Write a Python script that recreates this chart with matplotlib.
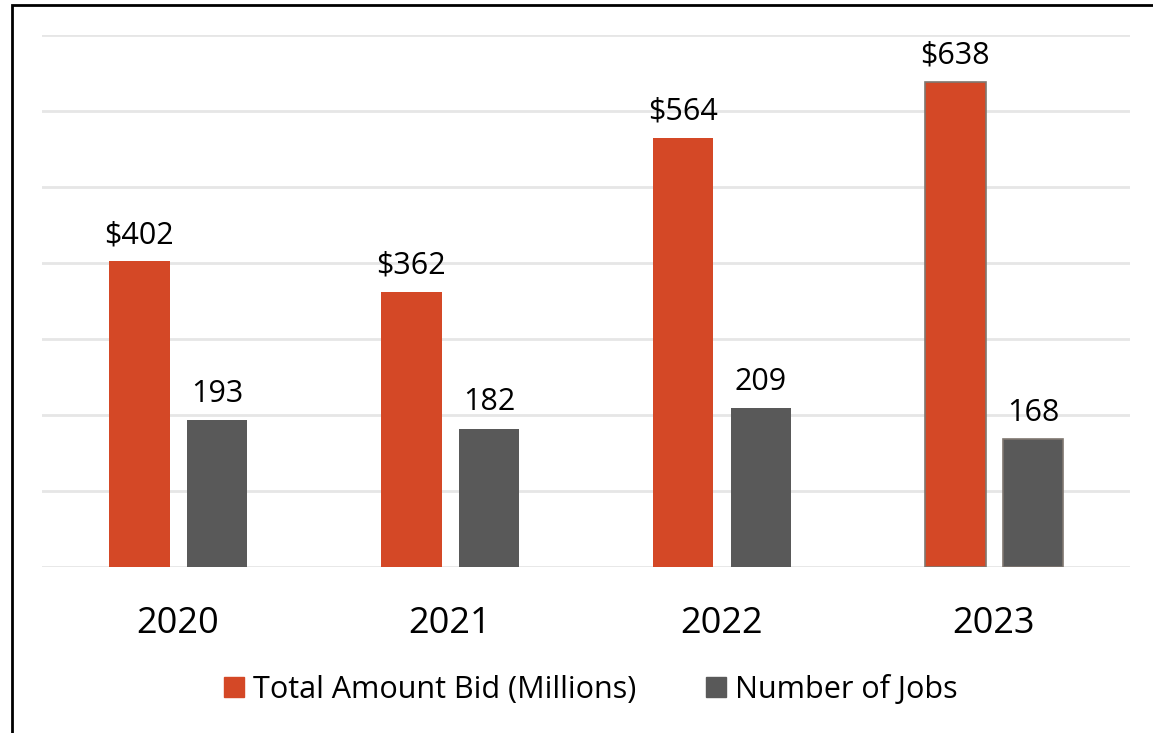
import matplotlib.pyplot as plt
import matplotlib.patches as mpatches
import numpy as np

plt.rcParams['font.family'] = ['Open Sans', 'DejaVu Sans']

years = ['2020', '2021', '2022', '2023']
total_bid = [402, 362, 564, 638]
num_jobs = [193, 182, 209, 168]
bid_labels = ['$402', '$362', '$564', '$638']

orange = '#D44826'
gray = '#595959'

fig = plt.figure(figsize=(11.53, 7.33), dpi=100)
ax = fig.add_axes([42 / 1153, 1 - 567 / 733, 1088 / 1153, 532 / 733])

x = np.arange(len(years))
w = 0.224
off = (w + 0.0625) / 2

b1 = ax.bar(x - off, total_bid, w, color=orange, zorder=3)
b2 = ax.bar(x + off, num_jobs, w, color=gray, zorder=3)
# last year's bars have a thin grey outline
b1[3].set_edgecolor('#7f7770')
b1[3].set_linewidth(1.2)
b2[3].set_edgecolor('#7f7770')
b2[3].set_linewidth(1.2)

for bar, lab in zip(b1, bid_labels):
    ax.text(bar.get_x() + bar.get_width() / 2, bar.get_height() + 15, lab,
            ha='center', va='bottom', fontsize=22)
for bar, v in zip(b2, num_jobs):
    ax.text(bar.get_x() + bar.get_width() / 2, bar.get_height() + 15, str(v),
            ha='center', va='bottom', fontsize=22)

ax.set_xlim(-0.5, 3.5)
ax.set_ylim(0, 700)
ax.set_yticks(np.arange(0, 701, 100))
ax.set_yticklabels([])
ax.tick_params(axis='y', length=0)
ax.grid(axis='y', color='#e6e6e6', linewidth=2, zorder=0)
ax.set_xticks(x)
ax.set_xticklabels(years, fontsize=26)
ax.tick_params(axis='x', length=0, pad=28)
for s in ax.spines.values():
    s.set_visible(False)

handles = [mpatches.Patch(color=orange, label='Total Amount Bid (Millions)'),
           mpatches.Patch(color=gray, label='Number of Jobs')]
fig.legend(handles=handles, loc='center', bbox_to_anchor=(591 / 1153, 1 - 690 / 733),
           ncol=2, frameon=False, fontsize=22, handlelength=0.65, handleheight=0.65,
           handletextpad=0.3, columnspacing=2.3)

# outer frame (right and bottom edges are cut off in the original)
fig.patches.append(mpatches.Rectangle((12 / 1153, -0.1), 1.2, 1 - 5 / 733 + 0.1,
                                      transform=fig.transFigure, fill=False,
                                      edgecolor='black', linewidth=2))

fig.savefig('out.png', dpi=100)
